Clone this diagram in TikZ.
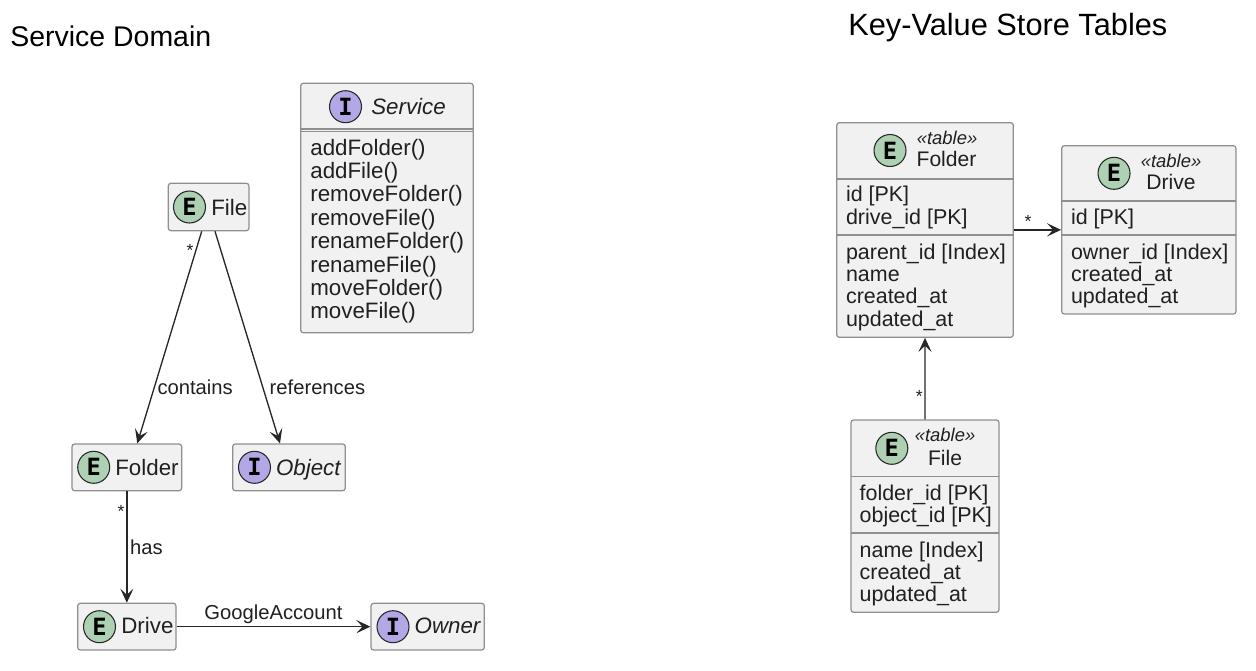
\documentclass[tikz,border=0pt]{standalone}
\usepackage{fontspec}
\setmainfont{Liberation Sans}
\newfontfamily\glyphfont{DejaVu Sans Mono}
\usetikzlibrary{arrows.meta,fit}

\definecolor{boxfill}{HTML}{F1F1F1}
\definecolor{boxline}{HTML}{8F8F8F}
\definecolor{entgreen}{HTML}{ADD1B2}
\definecolor{ifcpurple}{HTML}{B4A7E5}
\definecolor{linkcol}{HTML}{262626}
\definecolor{txtcol}{HTML}{202020}

\tikzset{
	box/.style={draw=boxline, fill=boxfill, rounded corners=1.5pt, line width=0.7pt, inner sep=0pt},
	badge/.style={circle, draw=linkcol, line width=0.6pt, minimum size=0.64cm, inner sep=0pt,
		font=\glyphfont\bfseries\fontsize{13.5}{13.5}\selectfont},
	ent/.style={badge, fill=entgreen},
	ifc/.style={badge, fill=ifcpurple},
	cname/.style={anchor=base west, inner sep=0pt, text=txtcol, font=\fontsize{12.7}{14}\selectfont},
	iname/.style={cname, font=\fontsize{12.7}{14}\selectfont\itshape},
	oprow/.style={anchor=base west, inner sep=0pt, text=txtcol, font=\fontsize{12.7}{14}\selectfont},
	fieldrow/.style={anchor=base west, inner sep=0pt, text=txtcol, font=\fontsize{12.2}{13}\selectfont},
	stereo/.style={anchor=base, inner sep=0pt, text=txtcol, font=\fontsize{10.5}{12}\selectfont\itshape},
	tname/.style={anchor=base, inner sep=0pt, text=txtcol, font=\fontsize{12}{13}\selectfont},
	divider/.style={draw=boxline, line width=0.7pt},
	thickdiv/.style={draw=boxline, line width=1.3pt},
	assoc/.style={draw=linkcol, line width=0.75pt, -{Stealth[length=8pt,width=7.5pt,inset=3.5pt]}},
	lbl/.style={inner sep=1.5pt, text=txtcol, font=\fontsize{11.5}{13}\selectfont},
	star/.style={inner sep=1pt, text=txtcol, font=\fontsize{10}{10}\selectfont},
	heading/.style={anchor=base west, inner sep=0pt, font=\fontsize{16.2}{18}\selectfont}
}

\begin{document}
\begin{tikzpicture}[x=0.02cm, y=-0.02cm]
	\useasboundingbox (0,0) rectangle (1256,670);

	% titles
	\node[heading] (domainT) at (10,46.7) {Service Domain};
	\node[heading, font=\fontsize{17.5}{19}\selectfont] (storeT) at (848,35) {Key-Value Store Tables};

	% service domain
	\node[box, fit={(168.3,183.3) (249,230.7)}] (file) {};
	\node[ent] (fileE) at (189.5,207) {E};
	\node[cname] (fileN) at (211,215) {File};

	\node[box, fit={(300.7,83.3) (473.3,332.7)}] (svc) {};
	\draw[divider] (300.7,129) -- (473.3,129);
	\draw[divider] (300.7,131.3) -- (473.3,131.3);
	\node[ifc] (svcI) at (345.5,106.7) {I};
	\node[iname] (svcN) at (371,114.3) {Service};
	\foreach \t [count=\i] in {addFolder(),addFile(),removeFolder(),removeFile(),renameFolder(),renameFile(),moveFolder(),moveFile()}
		\node[oprow] (svcOp\i) at (310,{155+23.4*(\i-1)}) {\t};

	\node[box, fit={(72,444) (181.7,490.7)}] (folder) {};
	\node[ent] (folderE) at (93.7,467.3) {E};
	\node[cname] (folderN) at (115,475) {Folder};

	\node[box, fit={(232.7,444) (345.3,490.7)}] (object) {};
	\node[ifc] (objectI) at (254.5,467.3) {I};
	\node[iname] (objectN) at (275.7,475) {Object};

	\node[box, fit={(77.7,603.3) (176,650)}] (drive) {};
	\node[ent] (driveE) at (99.5,626.7) {E};
	\node[cname] (driveN) at (121,633.3) {Drive};

	\node[box, fit={(371,603.3) (484.3,650)}] (owner) {};
	\node[ifc] (ownerI) at (393,626.7) {I};
	\node[iname] (ownerN) at (414.3,633.3) {Owner};

	\draw[assoc] ([xshift=-0.139cm]file.south) -- node[star, pos=0.09, left] {*} node[lbl, pos=0.737, right] {contains} ([xshift=0.209cm]folder.north);
	\draw[assoc] ([xshift=0.127cm]file.south) -- node[lbl, pos=0.737, right=2pt] {references} ([xshift=-0.18cm]object.north);
	\draw[assoc] (folder.south) -- node[star, pos=0.18, left] {*} node[lbl, midway, right] {has} (drive.north);
	\draw[assoc] (drive.east) -- node[lbl, midway, above] {GoogleAccount} (owner.west);

	% key-value store tables
	\node[box, fit={(836.7,122.7) (1013.3,337.3)}] (folderT) {};
	\draw[divider] (836.7,179) -- (1013.3,179);
	\draw[thickdiv] (836.7,234.7) -- (1013.3,234.7);
	\node[ent] (folderTE) at (890,150.5) {E};
	\node[stereo] (folderTS) at (947,144) {«table»};
	\node[tname] (folderTN) at (946.5,166.7) {Folder};
	\foreach \t/\yy in {id [PK]/201.7,drive\_id [PK]/224,parent\_id [Index]/259.3,name/281.7,created\_at/303.3,updated\_at/326}
		\node[fieldrow] at (845.7,\yy) {\t};

	\node[box, fit={(1061.7,145.7) (1236,314)}] (driveT) {};
	\draw[divider] (1061.7,201) -- (1236,201);
	\draw[thickdiv] (1061.7,235) -- (1236,235);
	\node[ent] (driveTE) at (1114,173.3) {E};
	\node[stereo] (driveTS) at (1171,167.7) {«table»};
	\node[tname] (driveTN) at (1171,189.3) {Drive};
	\foreach \t/\yy in {id [PK]/224,owner\_id [Index]/259.3,created\_at/281.7,updated\_at/303.3}
		\node[fieldrow] at (1070.7,\yy) {\t};

	\node[box, fit={(851,420) (999,612.3)}] (fileT) {};
	\draw[divider] (851,476.7) -- (999,476.7);
	\draw[thickdiv] (851,532.7) -- (999,532.7);
	\node[ent] (fileTE) at (891.8,448.3) {E};
	\node[stereo] (fileTS) at (945,441.7) {«table»};
	\node[tname] (fileTN) at (945,465) {File};
	\foreach \t/\yy in {folder\_id [PK]/500,object\_id [PK]/522.7,name [Index]/557.7,created\_at/579.3,updated\_at/601.7}
		\node[fieldrow] at (859.3,\yy) {\t};

	\draw[assoc] (driveT.west -| folderT.east) -- node[star, pos=0.3, above] {*} (driveT.west);
	\draw[assoc] (fileT.north) -- node[star, pos=0.28, left] {*} (folderT.south);

\end{tikzpicture}
\end{document}
